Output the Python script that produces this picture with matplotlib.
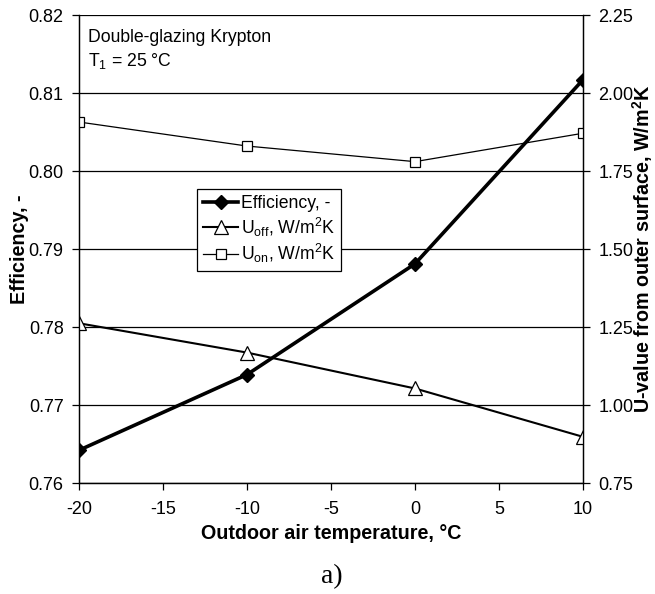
import numpy as np
import matplotlib.pyplot as plt

plt.rcParams['font.family'] = ['Liberation Sans', 'DejaVu Sans']
plt.rcParams['mathtext.default'] = 'regular'
plt.rcParams['axes.unicode_minus'] = False

# Data
temperature = [-20, -10, 0, 10]
efficiency = [0.7642, 0.7739, 0.7881, 0.8117]
u_off = [1.262, 1.168, 1.053, 0.898]
u_on = [1.907, 1.830, 1.780, 1.871]

fig = plt.figure(figsize=(6.55, 5.94), dpi=100)
ax = fig.add_axes([79 / 655, 1 - 483 / 594, 504 / 655, 468 / 594])
ax2 = ax.twinx()

tick_fs = 13
label_fs = 14.2
text_fs = 12.7

# Efficiency on left axis
l1, = ax.plot(temperature, efficiency, color='black', lw=2.6, marker='D',
              ms=7, mfc='black', mec='black', zorder=5,
              label='Efficiency, -')

# U-values on right axis
l2, = ax2.plot(temperature, u_off, color='black', lw=1.5, marker='^',
               ms=10, mfc='white', mec='black', mew=0.9,
               label='U$_{off}$, W/m$^{2}$K')
l3, = ax2.plot(temperature, u_on, color='black', lw=0.9, marker='s',
               ms=7.5, mfc='white', mec='black', mew=0.9,
               label='U$_{on}$, W/m$^{2}$K')

ax.set_xlim(-20, 10)
ax.set_ylim(0.76, 0.82)
ax.set_xticks(np.arange(-20, 11, 5))
left_ticks = np.arange(0.76, 0.8201, 0.01)
ax.set_yticks(left_ticks)
ax.set_yticklabels([f"{v:.2f}" for v in left_ticks])
ax.yaxis.grid(True, color='black', lw=0.9)
ax.set_axisbelow(True)

ax2.set_ylim(0.75, 2.25)
right_ticks = np.arange(0.75, 2.2501, 0.25)
ax2.set_yticks(right_ticks)
ax2.set_yticklabels([f"{v:.2f}" for v in right_ticks])

for a in (ax, ax2):
    a.tick_params(direction='out', length=5, width=0.9, labelsize=tick_fs, pad=6)
    for s in a.spines.values():
        s.set_linewidth(0.9)
    a.spines['top'].set_visible(False)
ax.tick_params(axis='x', pad=8)

ax.set_xlabel('Outdoor air temperature, °C', fontsize=label_fs, fontweight='bold')
ax.set_ylabel('Efficiency, -', fontsize=label_fs, fontweight='bold')
ax2.set_ylabel('U-value from outer surface, W/m$^{2}$K', fontsize=label_fs,
               fontweight='bold')
ax.xaxis.set_label_coords(0.5, -(524 - 483) / 468)
ax.yaxis.set_label_coords(-(79 - 29) / 504, 0.5)
ax2.yaxis.set_label_coords(1 + (630 - 583) / 504, 0.5)

ax.text(-19.45, 0.8171, 'Double-glazing Krypton', fontsize=text_fs, va='center')
ax.text(-19.45, 0.8141, 'T$_1$ = 25 °C', fontsize=text_fs, va='center')

leg = ax2.legend(handles=[l1, l2, l3], loc='upper left',
                 bbox_to_anchor=(0.234, 0.628), fontsize=text_fs,
                 frameon=True, fancybox=False, edgecolor='black',
                 framealpha=1, handlelength=2.0, handletextpad=0.15,
                 borderpad=0.35, labelspacing=0.18, borderaxespad=0)
leg.get_frame().set_linewidth(0.9)

fig.text(332 / 655, 1 - 577 / 594, 'a)', fontsize=20, family='Liberation Serif',
         ha='center', va='center')

fig.savefig('out.png', dpi=100)
